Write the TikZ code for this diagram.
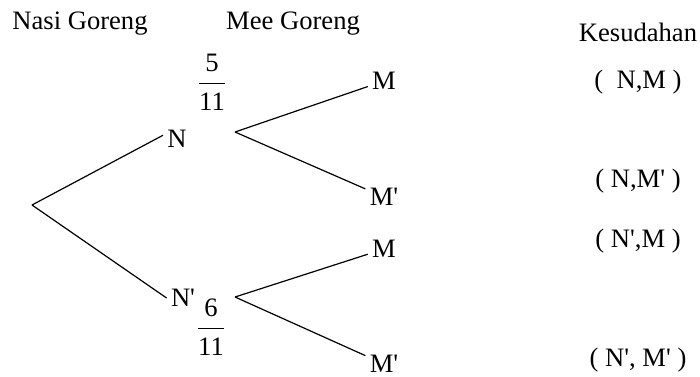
\documentclass[tikz,border=0pt]{standalone}
\usepackage{fontspec}
\setmainfont{Liberation Serif}[Ligatures=TeXOff]
\usepackage{tikz}
\usetikzlibrary{positioning}

\begin{document}
\begin{tikzpicture}[
    x=0.5pt, y=-0.5pt,
    lbl/.style={inner sep=2pt, font=\fontsize{13.3}{16}\selectfont},
    frac/.style={inner sep=0pt, font=\fontsize{13.3}{16}\selectfont},
    branch/.style={line width=0.6pt}
]
    \useasboundingbox (0,0) rectangle (700,376);

    % Tajuk
    \node[lbl] (nasi) at (80,24) {Nasi Goreng};
    \node[lbl] (mee) at (293,24) {Mee Goreng};
    \node[lbl] (hasil) at (638,32) {Kesudahan};

    % Peringkat pertama
    \coordinate (root) at (32,205);
    \node[lbl] (n) at (177,139) {N};
    \node[lbl] (nbar) at (183,298) {N'};
    \node[frac] (p1) at (212,82) {$\displaystyle\frac{\mbox{5}}{\mbox{11}}$};
    \node[frac] (p2) at (211,327) {$\displaystyle\frac{\mbox{6}}{\mbox{11}}$};

    % Peringkat kedua
    \coordinate (nfork) at (235,132);
    \coordinate (nbarfork) at (235,297);
    \node[lbl] (m1) at (384,81) {M};
    \node[lbl] (m1bar) at (384,197) {M'};
    \node[lbl] (m2) at (384,249) {M};
    \node[lbl] (m2bar) at (384,364) {M'};

    % Kesudahan
    \node[lbl] (o1) at (638,82) {(\ \ N,M )};
    \node[lbl] (o2) at (638,181) {( N,M' )};
    \node[lbl] (o3) at (638,241) {( N',M )};
    \node[lbl] (o4) at (638,360) {( N', M' )};

    % Cabang
    \draw[branch] (root) -- (n.165);
    \draw[branch] (root) -- (nbar.west);
    \draw[branch] (nfork) -- (m1);
    \draw[branch] (nfork) -- (m1bar);
    \draw[branch] (nbarfork) -- (m2);
    \draw[branch] (nbarfork) -- (m2bar);

\end{tikzpicture}
\end{document}
